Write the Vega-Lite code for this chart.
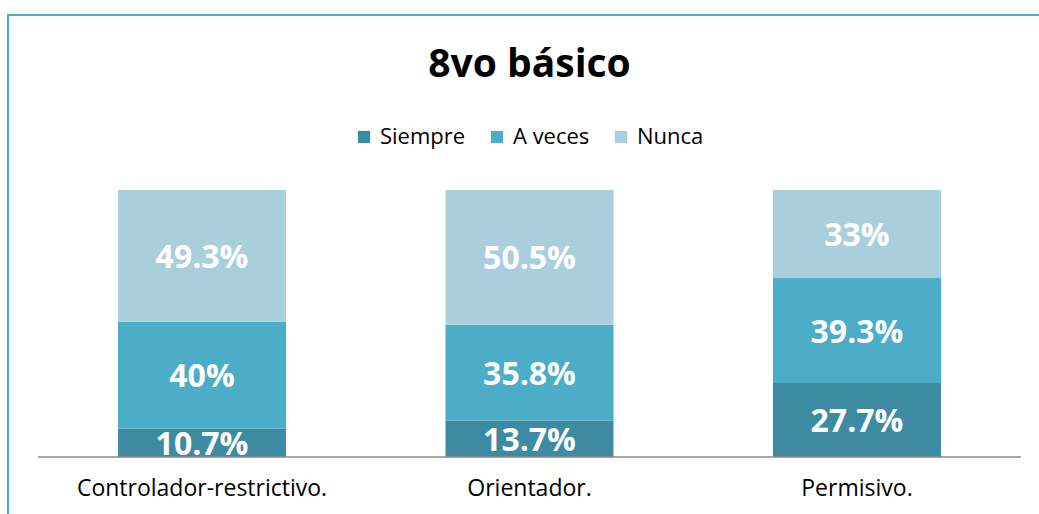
{
  "$schema": "https://vega.github.io/schema/vega-lite/v6.json",
  "autosize": {"type": "none"},
  "padding": {"left": 8, "top": 15, "right": 0, "bottom": 0},
  "width": 1043,
  "height": 515,
  "background": "white",
  "config": {
    "view": {"stroke": "#4bacc6", "strokeWidth": 2},
    "font": "Open Sans"
  },
  "title": {
    "text": "8vo básico",
    "font": "Open Sans",
    "fontSize": 39,
    "fontWeight": "bold",
    "color": "#000000",
    "anchor": "middle",
    "baseline": "alphabetic",
    "offset": -101
  },
  "data": {
    "values": [
      {"perfil": "Controlador-restrictivo.", "frecuencia": "Siempre", "orden": 1, "valor": 0.107},
      {"perfil": "Controlador-restrictivo.", "frecuencia": "A veces", "orden": 2, "valor": 0.40},
      {"perfil": "Controlador-restrictivo.", "frecuencia": "Nunca", "orden": 3, "valor": 0.493},
      {"perfil": "Orientador.", "frecuencia": "Siempre", "orden": 1, "valor": 0.137},
      {"perfil": "Orientador.", "frecuencia": "A veces", "orden": 2, "valor": 0.358},
      {"perfil": "Orientador.", "frecuencia": "Nunca", "orden": 3, "valor": 0.505},
      {"perfil": "Permisivo.", "frecuencia": "Siempre", "orden": 1, "valor": 0.277},
      {"perfil": "Permisivo.", "frecuencia": "A veces", "orden": 2, "valor": 0.393},
      {"perfil": "Permisivo.", "frecuencia": "Nunca", "orden": 3, "valor": 0.33}
    ]
  },
  "transform": [
    {"stack": "valor", "groupby": ["perfil"], "sort": [{"field": "orden", "order": "ascending"}], "as": ["y0", "y1"]},
    {"calculate": "(datum.y0 + datum.y1) / 2", "as": "ymid"}
  ],
  "encoding": {
    "x": {
      "field": "perfil",
      "type": "nominal",
      "sort": null,
      "title": null,
      "scale": {"paddingInner": 0.487, "paddingOuter": 0.336},
      "axis": {
        "orient": "bottom",
        "offset": -73,
        "labelAngle": 0,
        "ticks": false,
        "domain": false,
        "labelFont": "Open Sans",
        "labelFontSize": 23,
        "labelColor": "#000000",
        "labelPadding": 20,
        "labelLimit": 0
      }
    }
  },
  "layer": [
    {
      "mark": {"type": "bar"},
      "encoding": {
        "y": {"field": "y0", "type": "quantitative", "scale": {"domain": [-0.2734, 1.6554], "nice": false, "zero": false}, "axis": null},
        "y2": {"field": "y1"},
        "color": {
          "field": "frecuencia",
          "type": "nominal",
          "scale": {"domain": ["Siempre", "A veces", "Nunca"], "range": ["#3d8ba3", "#4badc7", "#a9cfdc"]},
          "legend": {
            "title": null,
            "orient": "none",
            "direction": "horizontal",
            "legendX": 345,
            "legendY": 111,
            "symbolType": "square",
            "symbolSize": 150,
            "symbolStrokeWidth": 0,
            "labelFont": "Open Sans",
            "labelFontSize": 22,
            "labelColor": "#000000",
            "columnPadding": 20,
            "labelOffset": 5
          }
        }
      }
    },
    {
      "mark": {"type": "text", "color": "white", "fontWeight": "bold", "fontSize": 32, "font": "Open Sans", "baseline": "middle", "dy": 2},
      "encoding": {
        "y": {"field": "ymid", "type": "quantitative"},
        "text": {"field": "valor", "type": "quantitative", "format": ".1~%"}
      }
    },
    {
      "data": {"values": [{"base": 0}]},
      "transform": [],
      "mark": {"type": "rule", "color": "#888888", "strokeWidth": 1.5},
      "encoding": {
        "x": {"datum": "Controlador-restrictivo.", "bandPosition": -0.476},
        "x2": {"datum": "Permisivo.", "bandPosition": 1.476},
        "y": {"field": "base", "type": "quantitative"}
      }
    }
  ]
}
